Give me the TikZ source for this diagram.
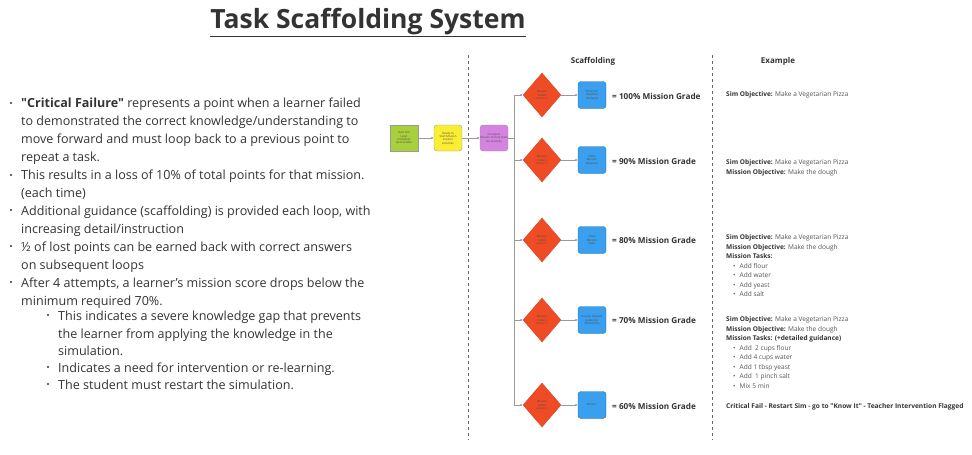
\documentclass[tikz,border=0pt]{standalone}
\usepackage{fontspec}
\setmainfont{Open Sans}[Ligatures=TeXOff]
\usetikzlibrary{shapes.geometric,arrows.meta}
\definecolor{txt}{HTML}{333333}
\definecolor{extxt}{HTML}{555555}
\definecolor{cgreen}{HTML}{A8CF3C}
\definecolor{cyellow}{HTML}{F9EE33}
\definecolor{cpurple}{HTML}{D484E0}
\definecolor{cred}{HTML}{EF4B24}
\definecolor{cblue}{HTML}{3A9FEE}
\definecolor{cline}{HTML}{9A9A9A}
\newcommand{\tinyfont}{\fontsize{2.8}{3.3}\selectfont}
\newcommand{\exb}{\hspace*{7pt}\textbullet\hspace{4pt}}
\begin{document}
\begin{tikzpicture}[x=1pt,y=-1pt,
  body/.style={anchor=base west, inner sep=0, font=\fontsize{12.55}{14}\selectfont, text=txt},
  ex/.style={anchor=north west, inner sep=0, align=left, font=\fontsize{6.55}{9.5}\selectfont, text=extxt},
  grade/.style={anchor=west, inner sep=0, font=\bfseries\fontsize{8.2}{9}\selectfont, text=txt},
  head/.style={inner sep=0, font=\bfseries\fontsize{8}{9}\selectfont, text=txt},
  sqbox/.style={draw=cline, line width=0.4pt, minimum width=28pt, minimum height=26pt, inner sep=0, align=center, font=\tinyfont, text=black!70},
  dec/.style={shape=diamond, fill=cred, draw=cred!85!black, line width=0.3pt, minimum width=38pt, minimum height=44pt, inner sep=0, align=center, font=\tinyfont, text=black!70},
  bbox/.style={rounded corners=3pt, fill=cblue, draw=cblue!70!black, line width=0.4pt, minimum width=28pt, minimum height=27pt, inner sep=0, align=center, font=\tinyfont, text=black!70},
  conn/.style={draw=cline, line width=0.6pt},
  arr/.style={conn, -{Latex[length=2.5pt,width=2.5pt]}},
  sep/.style={draw=black!60, line width=0.6pt, dash pattern=on 3pt off 3pt}]
\useasboundingbox (0,0) rectangle (972,455);

% title
\node[inner sep=0, font=\bfseries\fontsize{26.5}{30}\selectfont, text=txt] (title) at (368,21.5) {Task Scaffolding System};
\draw[txt, line width=1.5pt] ([yshift=-1.5pt]title.south west) -- ([yshift=-1.5pt]title.south east);

% separators
\draw[sep] (468,55) -- (468,440);
\draw[sep] (712,55) -- (712,440);

% headers
\node[head] (hs) at (593,61) {Scaffolding};
\node[head] (he) at (778,61) {Example};

% left text
\node[body] (l1) at (21,107) {\textbf{"Critical Failure"} represents a point when a learner failed};
\node[body] (l2) at (21,125) {to demonstrated the correct knowledge/understanding to};
\node[body] (l3) at (21,143) {move forward and must loop back to a previous point to};
\node[body] (l4) at (21,161) {repeat a task.};
\node[body] (l5) at (21,179) {This results in a loss of 10\% of total points for that mission.};
\node[body] (l6) at (21,197) {(each time)};
\node[body] (l7) at (21,215) {Additional guidance (scaffolding) is provided each loop, with};
\node[body] (l8) at (21,233) {increasing detail/instruction};
\node[body] (l9) at (21,251) {½ of lost points can be earned back with correct answers};
\node[body] (l10) at (21,269) {on subsequent loops};
\node[body] (l11) at (21,287) {After 4 attempts, a learner’s mission score drops below the};
\node[body] (l12) at (21,305) {minimum required 70\%.};
\node[body] (l13) at (58,320) {This indicates a severe knowledge gap that prevents};
\node[body] (l14) at (58,338) {the learner from applying the knowledge in the};
\node[body] (l15) at (58,355) {simulation.};
\node[body] (l16) at (58,372) {Indicates a need for intervention or re-learning.};
\node[body] (l17) at (58,389) {The student must restart the simulation.};
\foreach \yy in {103,175,210,246,282} \fill[txt] (11,\yy) circle (1.1pt);
\foreach \yy in {315,367,384} \fill[txt] (48,\yy) circle (1.1pt);

% flow start
\node[sqbox, fill=cgreen] (g) at (404,138) {Start Sim\\Level\\Individual\\Quiz Grades};
\node[sqbox, fill=cyellow, rounded corners=3pt] (y) at (448,138) {Ready to\\Start Mission\\Explore\\Activities};
\node[sqbox, fill=cpurple, rounded corners=3pt] (p) at (494,138) {Complete\\Mission Activity Tasks\\Successfully};
\draw[arr] (g) -- (y);
\draw[arr] (y) -- (p);

% trunk
\coordinate (t1) at (514,95);
\coordinate (t5) at (514,405);
\draw[conn] (p.east) -- (p.east -| t1);
\draw[conn] (t1) -- (t5);

% rows
\node[dec] (d1) at (542,95) {Mission\\Failed\\count +1};
\node[dec] (d2) at (542,160) {Mission\\Failure\\Count +1};
\node[dec] (d3) at (542,240) {Mission\\Failed\\count +1};
\node[dec] (d4) at (542,320) {Mission\\Failure\\Count +1};
\node[dec] (d5) at (542,405) {Mission\\Failed\\count +1};

\node[bbox] (b1) at (592,95) {Show Sim\\Objective\\(Default)};
\node[bbox] (b2) at (592,160) {Show\\Mission\\Objective};
\node[bbox] (b3) at (592,240) {Show\\Mission\\Tasks};
\node[bbox] (b4) at (592,320) {Include detailed\\guidance/\\instructions};
\node[bbox] (b5) at (592,405) {Restart};

\foreach \i in {1,...,5} {
  \draw[arr] (t1 |- d\i.west) -- (d\i.west);
  \draw[arr] (d\i.east) -- (b\i.west);
}

\node[grade] (r1) at (612,96) {= 100\% Mission Grade};
\node[grade] (r2) at (612,161) {= 90\% Mission Grade};
\node[grade] (r3) at (612,240) {= 80\% Mission Grade};
\node[grade] (r4) at (612,320) {= 70\% Mission Grade};
\node[grade] (r5) at (612,406) {= 60\% Mission Grade};

% examples
\node[ex] (e1) at (726,91.8) {\textbf{\color{txt}Sim Objective:} Make a Vegetarian Pizza};
\node[ex] (e2) at (726,159.8) {\textbf{\color{txt}Sim Objective:} Make a Vegetarian Pizza\\\textbf{\color{txt}Mission Objective:} Make the dough};
\node[ex] (e3) at (726,234.8) {\textbf{\color{txt}Sim Objective:} Make a Vegetarian Pizza\\\textbf{\color{txt}Mission Objective:} Make the dough\\\textbf{\color{txt}Mission Tasks:}\\\exb Add flour\\\exb Add water\\\exb Add yeast\\\exb Add salt};
\node[ex] (e4) at (726,316.8) {\textbf{\color{txt}Sim Objective:} Make a Vegetarian Pizza\\\textbf{\color{txt}Mission Objective:} Make the dough\\\textbf{\color{txt}Mission Tasks: (+detailed guidance)}\\\exb Add\ \ 2 cups flour\\\exb Add 4 cups water\\\exb Add 1 tbsp yeast\\\exb Add\ \ 1 pinch salt\\\exb Mix 5 min};
\node[ex, font=\bfseries\fontsize{6.6}{9.5}\selectfont, text=txt] (e5) at (726,402.8) {Critical Fail - Restart Sim - go to "Know It" - Teacher Intervention Flagged};
\end{tikzpicture}
\end{document}
